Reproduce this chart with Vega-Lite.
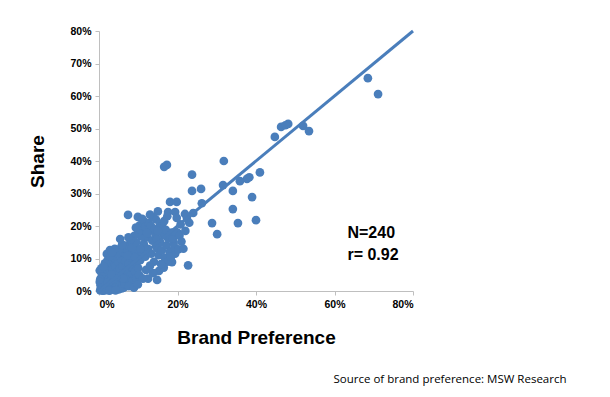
{
  "$schema": "https://vega.github.io/schema/vega-lite/v6.json",
  "width": 314,
  "height": 260,
  "autosize": "none",
  "padding": {"left": 99, "top": 31, "right": 197, "bottom": 106},
  "background": "white",
  "config": {
    "view": {"stroke": null},
    "axis": {
      "grid": false,
      "domainColor": "#BFBFBF",
      "tickColor": "#BFBFBF",
      "tickSize": 4,
      "labelFont": "Liberation Sans",
      "labelFontWeight": "bold",
      "labelFontSize": 10.5,
      "labelColor": "#000000",
      "labelOverlap": false,
      "titleFont": "Liberation Sans",
      "titleFontWeight": "bold",
      "titleFontSize": 19,
      "titleColor": "#000000"
    }
  },
  "title": {
    "text": "Source of brand preference: MSW Research",
    "orient": "bottom",
    "anchor": "end",
    "dx": 152,
    "offset": 26,
    "font": "Open Sans",
    "fontSize": 11.5,
    "fontWeight": "normal",
    "color": "#000000"
  },
  "datasets": {
    "points": [
      {"x":68.5,"y":65.5},{"x":71.1,"y":60.6},{"x":44.8,"y":47.4},{"x":46.4,"y":50.5},{"x":48.2,"y":51.4},{"x":47.5,"y":51.0},{"x":52.0,"y":50.8},{"x":53.5,"y":49.2},{"x":41.0,"y":36.5},{"x":31.8,"y":40.0},
      {"x":38.3,"y":35.0},{"x":37.7,"y":34.5},{"x":35.9,"y":33.8},{"x":31.6,"y":32.6},{"x":34.1,"y":30.8},{"x":26.0,"y":31.4},{"x":23.7,"y":30.8},{"x":39.0,"y":28.9},{"x":34.1,"y":25.2},{"x":28.8,"y":20.9},
      {"x":35.4,"y":20.9},{"x":40.0,"y":21.8},{"x":30.1,"y":17.5},{"x":26.2,"y":27.0},{"x":23.7,"y":35.8},{"x":17.3,"y":38.8},{"x":16.6,"y":38.2},{"x":18.1,"y":27.4},{"x":19.8,"y":27.4},{"x":17.6,"y":24.3},
      {"x":19.4,"y":24.3},{"x":15.0,"y":24.5},{"x":7.4,"y":23.4},{"x":22.4,"y":22.5},{"x":21.9,"y":23.7},{"x":24.0,"y":24.0},{"x":20.1,"y":17.8},{"x":22.7,"y":7.9},{"x":15.3,"y":6.2},{"x":14.8,"y":3.4},
      {"x":12.5,"y":3.8},{"x":18.6,"y":8.9},{"x":9.9,"y":22.8},{"x":11.2,"y":21.8},{"x":12.2,"y":20.9},{"x":13.5,"y":19.4},{"x":2.8,"y":12.6},{"x":2.0,"y":11.4},{"x":8.4,"y":13.5},{"x":5.9,"y":14.2},
      {"x":0.3,"y":0.2},{"x":0.5,"y":0.8},{"x":0.8,"y":0.3},{"x":1.0,"y":1.2},{"x":1.2,"y":0.5},{"x":0.4,"y":1.8},{"x":0.6,"y":2.5},{"x":1.5,"y":0.2},{"x":1.8,"y":1.0},{"x":2.0,"y":0.4},
      {"x":2.2,"y":1.6},{"x":0.9,"y":3.2},{"x":0.5,"y":4.0},{"x":1.3,"y":2.2},{"x":1.6,"y":3.0},{"x":2.5,"y":0.8},{"x":2.8,"y":2.0},{"x":3.0,"y":0.3},{"x":3.2,"y":1.2},{"x":3.5,"y":2.5},
      {"x":3.8,"y":0.6},{"x":4.0,"y":1.8},{"x":4.3,"y":3.0},{"x":4.6,"y":0.9},{"x":4.9,"y":2.2},{"x":1.1,"y":4.8},{"x":0.7,"y":5.5},{"x":1.9,"y":4.2},{"x":2.4,"y":3.4},{"x":2.7,"y":5.0},
      {"x":3.3,"y":4.0},{"x":3.6,"y":5.6},{"x":4.1,"y":4.6},{"x":4.5,"y":5.3},{"x":0.2,"y":6.3},{"x":1.4,"y":6.0},{"x":2.1,"y":6.6},{"x":0.3,"y":3.5},{"x":0.2,"y":2.8},{"x":0.8,"y":0.9},
      {"x":1.7,"y":1.8},{"x":2.3,"y":2.6},{"x":3.1,"y":3.1},{"x":3.9,"y":3.6},{"x":4.4,"y":1.2},{"x":5.0,"y":0.5},{"x":5.2,"y":1.5},{"x":5.5,"y":2.8},{"x":5.8,"y":0.8},{"x":6.0,"y":2.0},
      {"x":6.3,"y":1.0},{"x":1.0,"y":0.1},{"x":2.6,"y":0.1},{"x":4.2,"y":0.2},{"x":5.6,"y":3.9},{"x":2.5,"y":7.0},{"x":3.0,"y":8.2},{"x":3.4,"y":6.5},{"x":3.8,"y":9.0},{"x":4.2,"y":7.6},
      {"x":4.6,"y":5.8},{"x":5.0,"y":8.8},{"x":5.3,"y":6.9},{"x":5.7,"y":10.0},{"x":6.0,"y":7.8},{"x":6.4,"y":5.2},{"x":6.8,"y":9.2},{"x":7.1,"y":6.5},{"x":7.5,"y":8.3},{"x":7.8,"y":11.0},
      {"x":8.1,"y":4.8},{"x":8.5,"y":7.2},{"x":8.8,"y":9.8},{"x":9.2,"y":6.0},{"x":9.6,"y":8.6},{"x":2.2,"y":9.5},{"x":3.6,"y":10.5},{"x":4.8,"y":11.5},{"x":6.2,"y":12.0},{"x":7.2,"y":12.6},
      {"x":8.6,"y":12.2},{"x":9.8,"y":11.2},{"x":5.5,"y":4.3},{"x":7.0,"y":3.5},{"x":8.3,"y":2.8},{"x":9.5,"y":3.9},{"x":6.6,"y":2.2},{"x":7.6,"y":1.5},{"x":8.9,"y":1.0},{"x":9.9,"y":2.0},
      {"x":10.3,"y":4.6},{"x":10.0,"y":7.0},{"x":6.1,"y":3.9},{"x":4.4,"y":4.5},{"x":3.2,"y":5.1},{"x":9.0,"y":13.2},{"x":8.0,"y":10.3},{"x":7.3,"y":10.9},{"x":5.1,"y":12.8},{"x":6.9,"y":14.0},
      {"x":5.9,"y":14.2},{"x":8.4,"y":13.5},{"x":1.5,"y":8.5},{"x":10.5,"y":9.5},{"x":11.0,"y":12.0},{"x":11.4,"y":14.5},{"x":11.8,"y":10.6},{"x":12.2,"y":16.5},{"x":12.5,"y":13.0},{"x":12.9,"y":18.5},
      {"x":13.3,"y":11.5},{"x":13.6,"y":15.5},{"x":14.0,"y":9.0},{"x":14.4,"y":17.0},{"x":14.8,"y":13.2},{"x":15.2,"y":11.0},{"x":15.6,"y":15.0},{"x":16.0,"y":12.5},{"x":16.4,"y":17.5},{"x":16.8,"y":10.2},
      {"x":17.2,"y":14.0},{"x":17.6,"y":16.2},{"x":18.0,"y":12.0},{"x":18.5,"y":18.0},{"x":19.0,"y":14.8},{"x":19.4,"y":11.5},{"x":10.8,"y":16.8},{"x":11.5,"y":18.8},{"x":12.0,"y":6.5},{"x":13.0,"y":7.8},
      {"x":13.8,"y":5.5},{"x":10.2,"y":5.0},{"x":11.2,"y":3.8},{"x":9.5,"y":15.0},{"x":10.0,"y":18.0},{"x":10.4,"y":20.2},{"x":11.8,"y":19.8},{"x":12.6,"y":21.0},{"x":13.2,"y":20.0},{"x":14.2,"y":19.0},
      {"x":14.8,"y":16.0},{"x":15.5,"y":20.2},{"x":16.2,"y":19.5},{"x":17.0,"y":18.8},{"x":18.0,"y":17.0},{"x":18.8,"y":16.0},{"x":19.6,"y":18.2},{"x":20.5,"y":17.0},{"x":21.0,"y":15.2},{"x":19.2,"y":13.5},
      {"x":17.5,"y":9.0},{"x":16.5,"y":7.2},{"x":15.8,"y":8.3},{"x":18.3,"y":10.5},{"x":20.2,"y":12.8},{"x":9.0,"y":17.0},{"x":9.2,"y":10.3},{"x":10.6,"y":13.0},{"x":21.5,"y":13.0},{"x":22.0,"y":18.5},
      {"x":20.8,"y":20.5},{"x":23.0,"y":21.0},{"x":19.8,"y":22.5},{"x":14.5,"y":22.0},{"x":13.8,"y":22.7},{"x":11.0,"y":22.2},{"x":8.0,"y":15.8},{"x":7.5,"y":16.5},{"x":0.6,"y":7.0},{"x":1.2,"y":7.5},
      {"x":2.9,"y":10.8},{"x":4.0,"y":13.0},{"x":3.3,"y":11.8},{"x":5.4,"y":16.0},{"x":9.4,"y":19.5},{"x":12.3,"y":17.8},{"x":15.0,"y":18.5},{"x":16.6,"y":21.5},{"x":17.4,"y":23.0},{"x":13.0,"y":23.5}
    ]
  },
  "encoding": {
    "x": {
      "field": "x", "type": "quantitative",
      "scale": {"domain": [0, 80], "nice": false},
      "axis": {"values": [0, 20, 40, 60, 80], "labelExpr": "datum.value + '%'", "title": "Brand Preference", "titlePadding": 19, "labelPadding": 4}
    },
    "y": {
      "field": "y", "type": "quantitative",
      "scale": {"domain": [0, 80], "nice": false},
      "axis": {"values": [0, 10, 20, 30, 40, 50, 60, 70, 80], "labelExpr": "datum.value + '%'", "title": "Share", "titlePadding": 22, "labelPadding": 4}
    }
  },
  "layer": [
    {
      "data": {"name": "points"},
      "mark": {"type": "circle", "size": 76, "color": "#4A7EBB", "opacity": 1}
    },
    {
      "data": {"values": [{"x": 0, "y": 0, "x2": 80, "y2": 80}]},
      "mark": {"type": "rule", "strokeWidth": 3, "color": "#4A7EBB"},
      "encoding": {
        "x2": {"field": "x2"},
        "y2": {"field": "y2"}
      }
    },
    {
      "data": {"values": [{"x": 63.3, "y": 18.0, "t": "N=240"}, {"x": 63.3, "y": 11.2, "t": "r= 0.92"}]},
      "mark": {"type": "text", "align": "left", "baseline": "middle", "font": "Liberation Sans", "fontSize": 16, "fontWeight": "bold", "color": "#000000"},
      "encoding": {
        "text": {"field": "t"}
      }
    }
  ]
}
